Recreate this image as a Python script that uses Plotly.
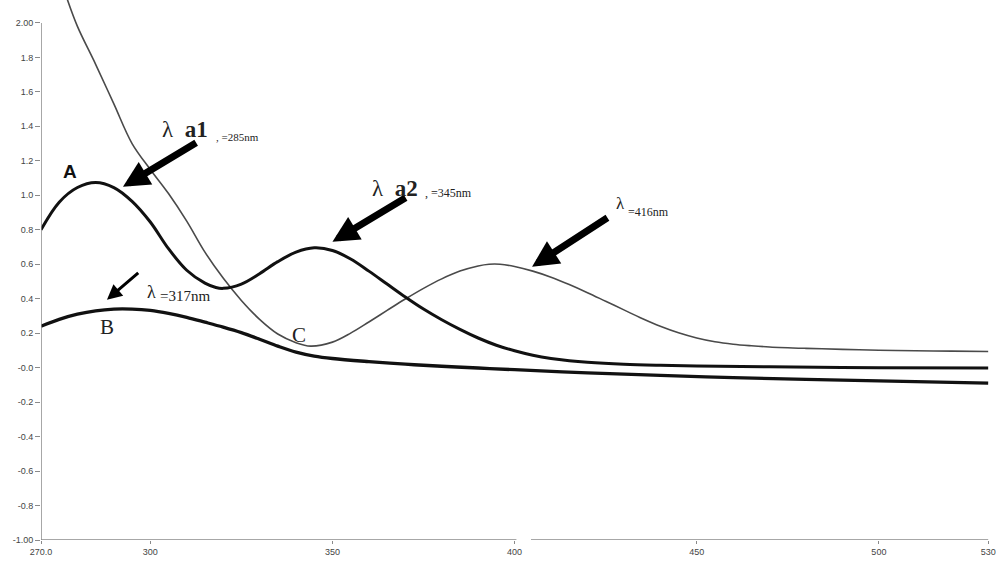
import plotly.graph_objects as go

# ---- data ----
wl_A = [270, 275, 280, 285, 290, 295, 300, 305, 310, 315, 318, 320, 325, 330, 335, 340, 345, 350, 355, 360,
        365, 370, 375, 380, 385, 390, 395, 400, 405, 410, 415, 420, 430, 440, 450, 470, 500, 530]
abs_A = [0.80, 0.96, 1.045, 1.074, 1.045, 0.965, 0.845, 0.69, 0.565, 0.49, 0.465, 0.46, 0.485, 0.545, 0.615, 0.67, 0.695, 0.68, 0.63, 0.56,
         0.485, 0.41, 0.34, 0.278, 0.222, 0.172, 0.13, 0.098, 0.072, 0.053, 0.04, 0.031, 0.02, 0.014, 0.01, 0.005, 0.0, -0.002]

wl_B = [270, 275, 280, 285, 290, 295, 300, 305, 310, 315, 320, 325, 330, 335, 340, 345, 350, 360, 370, 380, 390,
        400, 420, 440, 460, 480, 500, 530]
abs_B = [0.24, 0.28, 0.31, 0.33, 0.34, 0.34, 0.332, 0.315, 0.292, 0.264, 0.235, 0.203, 0.165, 0.125, 0.09, 0.067, 0.053, 0.035, 0.02, 0.008, -0.002,
         -0.012, -0.03, -0.045, -0.058, -0.068, -0.077, -0.09]

wl_C = [277, 280, 285, 290, 295, 300, 305, 310, 315, 320, 325, 330, 335, 340, 344, 350, 355, 360, 365, 370, 375, 380,
        385, 390, 393, 396, 400, 405, 410, 415, 420, 425, 430, 435, 440, 445, 450, 455, 460, 465, 470, 480, 490, 500,
        510, 520, 530]
abs_C = [2.15, 1.98, 1.76, 1.53, 1.30, 1.15, 1.01, 0.85, 0.67, 0.52, 0.39, 0.28, 0.195, 0.145, 0.125, 0.148, 0.2, 0.265, 0.332, 0.398, 0.46, 0.515,
         0.56, 0.59, 0.60, 0.60, 0.587, 0.56, 0.525, 0.482, 0.435, 0.385, 0.335, 0.285, 0.24, 0.202, 0.172, 0.15, 0.136, 0.127, 0.12, 0.112, 0.106, 0.101,
         0.098, 0.096, 0.094]

x_ticks = [270, 300, 350, 400, 450, 500, 530]
x_ticktext = ["270.0", "300", "350", "400", "450", "500", "530"]
y_ticks = [-1.0, -0.8, -0.6, -0.4, -0.2, 0.0, 0.2, 0.4, 0.6, 0.8, 1.0, 1.2, 1.4, 1.6, 1.8, 2.0]
y_ticktext = ["-1.00", "-0.8", "-0.6", "-0.4", "-0.2", "-0.0", "0.2", "0.4", "0.6", "0.8", "1.0",
              "1.2", "1.4", "1.6", "1.8", "2.00"]

fig = go.Figure()
fig.add_trace(go.Scatter(x=wl_C, y=abs_C, mode="lines", line=dict(color="#4a4a4a", width=1.6, shape="spline"),
                         hoverinfo="skip"))
fig.add_trace(go.Scatter(x=wl_A, y=abs_A, mode="lines", line=dict(color="#111111", width=3, shape="spline"),
                         hoverinfo="skip"))
fig.add_trace(go.Scatter(x=wl_B, y=abs_B, mode="lines", line=dict(color="#111111", width=3.3, shape="spline"),
                         hoverinfo="skip"))

axis_col = "#8a8a8a"
# broken axis lines
fig.add_shape(type="line", x0=270, x1=270, y0=-1, y1=2.0, line=dict(color=axis_col, width=1.5))
fig.add_shape(type="line", x0=270, x1=400.5, y0=-1, y1=-1, line=dict(color=axis_col, width=1.5))
fig.add_shape(type="line", x0=404.5, x1=530, y0=-1, y1=-1, line=dict(color=axis_col, width=1.5))

serif = "Liberation Serif"
anns = []
# arrows
for (tx, ty, sx, sy, w, s) in [(292.5, 1.049, 313.0, 1.310, 7, 0.75),
                               (350.0, 0.730, 370.5, 0.991, 7, 0.75),
                               (404.8, 0.586, 425.9, 0.875, 7, 0.75),
                               (288.1, 0.394, 297.1, 0.557, 3, 1.0)]:
    anns.append(dict(x=tx, y=ty, ax=sx, ay=sy, xref="x", yref="y", axref="x", ayref="y",
                     showarrow=True, arrowhead=2, arrowwidth=w, arrowsize=s, arrowcolor="#000", text=""))


def txt(x, y, t, size, family=serif, xanchor="center", color="#222", bold=False):
    anns.append(dict(x=x, y=y, xref="x", yref="y", text=("<b>%s</b>" % t) if bold else t, showarrow=False,
                     xanchor=xanchor, yanchor="middle", font=dict(family=family, size=size, color=color)))


txt(309.6, 1.38, "λ  <b>a1</b>", 23)
txt(317.6, 1.34, ", =285nm", 11, xanchor="left")
txt(367.3, 1.038, "λ  <b>a2</b>", 23)
txt(374.8, 1.015, ", =345nm", 12, xanchor="left")
txt(429.2, 0.95, "λ", 17)
txt(430.5, 0.904, "=416nm", 12, xanchor="left")
txt(300.4, 0.44, "λ", 18)
txt(302.2, 0.415, "=317nm", 15, xanchor="left")
txt(277.9, 1.136, "A", 19, family="Liberation Sans", color="#111", bold=True)
txt(288.1, 0.238, "B", 21)
txt(340.7, 0.191, "C", 21)

fig.update_layout(
    width=1000, height=572,
    margin=dict(l=41, r=10, t=0, b=32),
    paper_bgcolor="white", plot_bgcolor="white",
    showlegend=False,
    annotations=anns,
    xaxis=dict(range=[270, 530.5], showgrid=False, zeroline=False, showline=False, automargin=False,
               tickmode="array", tickvals=x_ticks, ticktext=x_ticktext,
               ticks="outside", ticklen=3, tickcolor=axis_col,
               tickfont=dict(family="Liberation Sans", size=9, color="#444")),
    yaxis=dict(range=[-1.0, 2.133], showgrid=False, zeroline=False, showline=False, automargin=False,
               tickmode="array", tickvals=y_ticks, ticktext=y_ticktext,
               ticks="outside", ticklen=5, tickcolor=axis_col,
               tickfont=dict(family="Liberation Sans", size=9, color="#444")),
)

fig.write_html("out.html", config={"displayModeBar": False},
               post_script="document.body.style.margin='0';document.body.style.overflow='hidden';")
